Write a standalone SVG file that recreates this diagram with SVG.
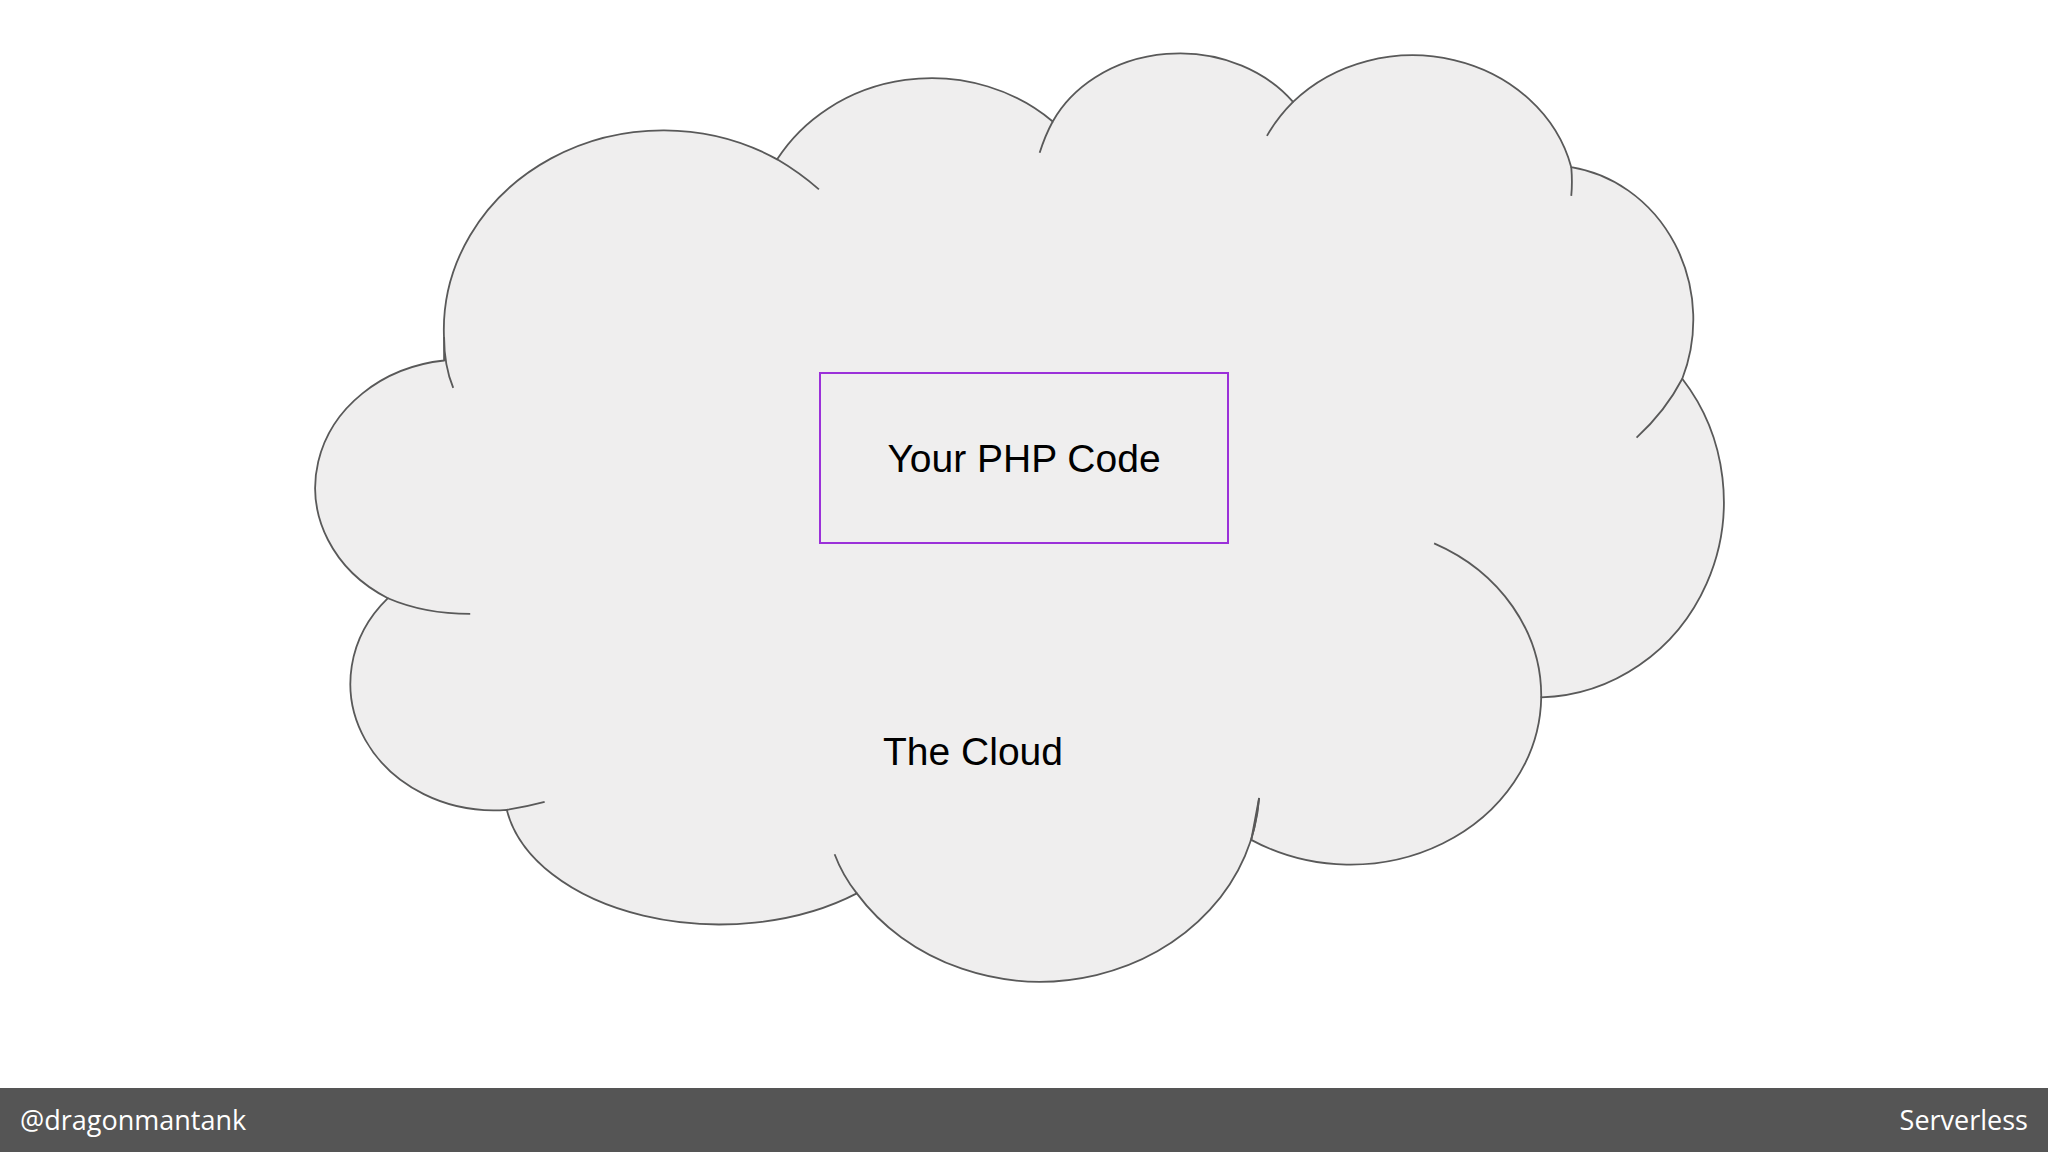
<svg xmlns="http://www.w3.org/2000/svg" width="2048" height="1152" viewBox="0 0 2048 1152">
<style>
.c{fill:#efeeee;stroke:#595959;stroke-width:1.8;vector-effect:non-scaling-stroke}
.l{fill:none;stroke:#595959;stroke-width:1.8;vector-effect:non-scaling-stroke}
.t{font-family:"Liberation Sans",Arial,sans-serif;fill:#000}
.f{font-family:"Open Sans","Liberation Sans",sans-serif;fill:#fff;font-size:27px}
</style>
<rect width="2048" height="1152" fill="#fff"/>
<g id="cloud" transform="scale(1.30612)">
<path class="c" d="M297,458 A112,98 0 0 1 340,276 L340,260 A168,153 0 0 1 595,122 A138,128 0 0 1 806,93 A108,92 0 0 1 990,78 A125,112 0 0 1 1203,128 A110,118 0 0 1 1288,290 A144,150 0 0 1 1180,534 A146,130 0 0 1 958,643 L964,611 A168,150 0 0 1 656,684 A165,104 0 0 1 388,620 A110,97 0 0 1 297,458 Z"/>
<path class="l" d="M340,258 Q340,280 347,297"/>
<path class="l" d="M595,122 Q612,132 627,145"/>
<path class="l" d="M806,93 Q800,104 796,117"/>
<path class="l" d="M990,78 Q978,90 970,104"/>
<path class="l" d="M1203,128 Q1204,140 1203,150"/>
<path class="l" d="M1288,290 Q1275,315 1253,335"/>
<path class="l" d="M1098,416 A146,130 0 0 1 1180,534"/>
<path class="l" d="M964,611 Q962,628 958,643"/>
<path class="l" d="M656,684 Q645,670 639,654"/>
<path class="l" d="M388,620 Q402,618 417,614"/>
<path class="l" d="M297,458 Q325,470 360,470"/>
</g>
<g id="code">
<rect x="820" y="373" width="408" height="170" fill="none" stroke="#9b30d9" stroke-width="2"/>
<text class="t" x="1024" y="472" font-size="39" text-anchor="middle">Your PHP Code</text>
</g>
<g id="label"><text class="t" x="973" y="765" font-size="39" text-anchor="middle">The Cloud</text></g>
<g id="footer">
<rect x="0" y="1088" width="2048" height="64" fill="#555555"/>
<text class="f" x="20" y="1130">@dragonmantank</text>
<text class="f" x="2028" y="1130" text-anchor="end">Serverless</text>
</g>
</svg>
